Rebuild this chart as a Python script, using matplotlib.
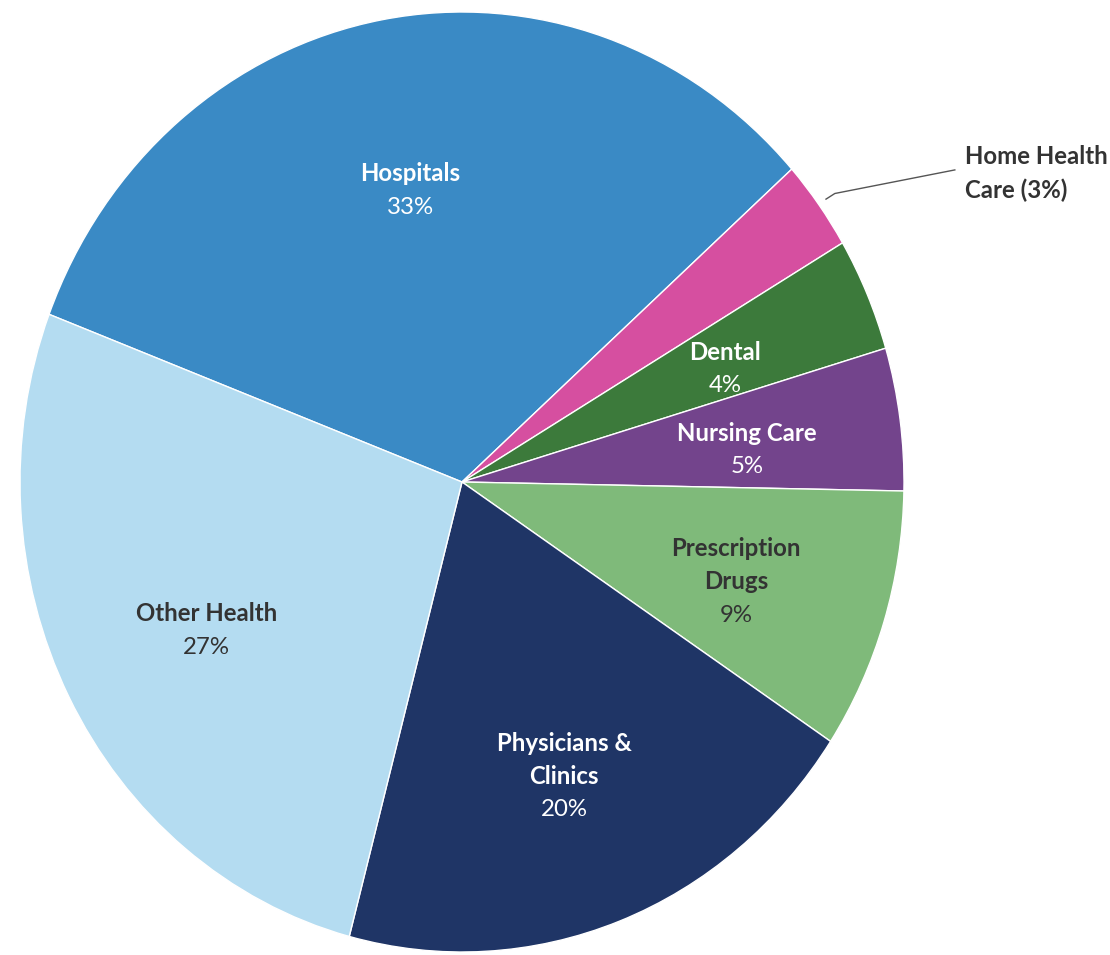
import numpy as np
import matplotlib.pyplot as plt

# DATA (share of spending)
categories = ['Hospitals', 'Home Health Care', 'Dental', 'Nursing Care',
              'Prescription Drugs', 'Physicians & Clinics', 'Other Health']
shares = [32.6, 3.1, 3.9, 4.9, 9.0, 19.8, 26.7]
name_lines = [['Hospitals'], ['Home Health', 'Care (3%)'], ['Dental'], ['Nursing Care'],
              ['Prescription', 'Drugs'], ['Physicians &', 'Clinics'], ['Other Health']]
pct_labels = ['33%', '3%', '4%', '5%', '9%', '20%', '27%']
colors = ['#3A8AC5', '#D64FA0', '#3C7A3B', '#73448C', '#7FBA7A', '#1F3566', '#B4DCF1']
text_colors = ['white', '#333333', 'white', 'white', '#333333', 'white', '#333333']

plt.rcParams['font.family'] = ['Lato', 'DejaVu Sans']

fig = plt.figure(figsize=(11.10, 9.55), dpi=100)
ax = fig.add_axes([0, 0, 1, 1])

wedges, _ = ax.pie(shares, colors=colors, startangle=159.1, counterclock=False,
                   wedgeprops=dict(edgecolor='white', linewidth=1.0))

# pie is slightly stretched vertically in the reference
ax.set_aspect('auto')
ax.set_xlim(-462/442, (1110-462)/442)
ax.set_ylim(-(955-482)/470, 482/470)
ax.axis('off')

fs = 17.3
line_h = 24.0   # points between lines
shift = -6.5    # labels sit a bit below the slice mid-point

for i, w in enumerate(wedges):
    mid = np.deg2rad((w.theta1 + w.theta2)/2)
    if categories[i] == 'Home Health Care':
        # outside label with leader line
        x0, y0 = 1.02*np.cos(mid), 1.02*np.sin(mid)
        x1, y1 = 1.115, 0.664
        ax.plot([x0, x0 + 0.02, x1], [y0, y0 + 0.012, y1], color='#555555', lw=1.0)
        for j, txt in enumerate(name_lines[i]):
            ax.annotate(txt, (1.138, 0.657), xytext=(0, (0.5 - j)*line_h),
                        textcoords='offset points', ha='left', va='center',
                        fontsize=fs, fontweight='bold', color=text_colors[i])
        continue
    x, y = 0.65*np.cos(mid), 0.65*np.sin(mid)
    lines = name_lines[i] + [pct_labels[i]]
    n = len(lines)
    for j, txt in enumerate(lines):
        off = ((n - 1)/2 - j)*line_h + shift
        ax.annotate(txt, (x, y), xytext=(0, off), textcoords='offset points',
                    ha='center', va='center', fontsize=fs, color=text_colors[i],
                    fontweight='bold' if j < n - 1 else 'normal')

fig.savefig('out.png', dpi=100)
